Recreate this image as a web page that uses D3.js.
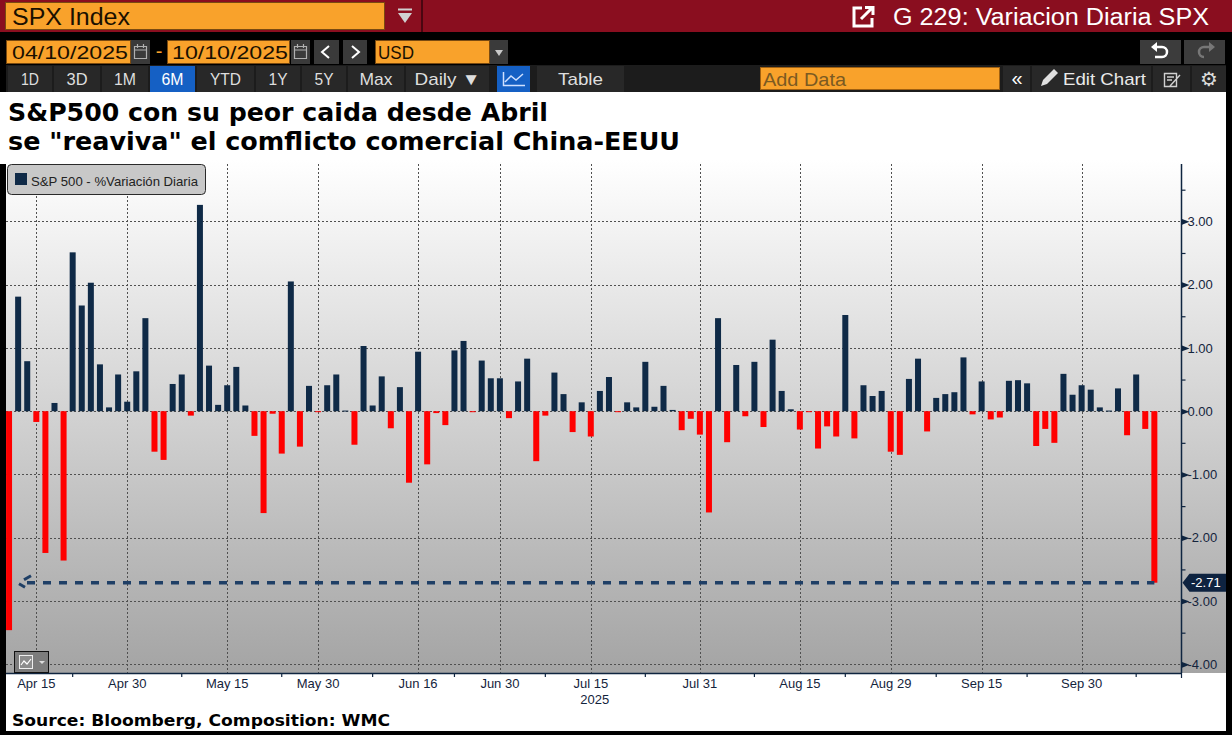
<!DOCTYPE html>
<html><head><meta charset="utf-8">
<script src="https://cdn.jsdelivr.net/npm/d3@7"></script>
<style>
body{margin:0;background:#000;overflow:hidden}
svg{display:block}
</style></head><body>
<svg id="c" width="1232" height="735" font-family="'Liberation Sans', Arial, sans-serif"></svg>
<script>
// ---------------- DATA ----------------
const dates = [
"2025-04-10","2025-04-11","2025-04-14","2025-04-15","2025-04-16","2025-04-17","2025-04-21","2025-04-22","2025-04-23","2025-04-24","2025-04-25","2025-04-28","2025-04-29","2025-04-30",
"2025-05-01","2025-05-02","2025-05-05","2025-05-06","2025-05-07","2025-05-08","2025-05-09","2025-05-12","2025-05-13","2025-05-14","2025-05-15","2025-05-16","2025-05-19","2025-05-20","2025-05-21","2025-05-22","2025-05-23","2025-05-27","2025-05-28","2025-05-29","2025-05-30",
"2025-06-02","2025-06-03","2025-06-04","2025-06-05","2025-06-06","2025-06-09","2025-06-10","2025-06-11","2025-06-12","2025-06-13","2025-06-16","2025-06-17","2025-06-18","2025-06-20","2025-06-23","2025-06-24","2025-06-25","2025-06-26","2025-06-27","2025-06-30",
"2025-07-01","2025-07-02","2025-07-03","2025-07-07","2025-07-08","2025-07-09","2025-07-10","2025-07-11","2025-07-14","2025-07-15","2025-07-16","2025-07-17","2025-07-18","2025-07-21","2025-07-22","2025-07-23","2025-07-24","2025-07-25","2025-07-28","2025-07-29","2025-07-30","2025-07-31",
"2025-08-01","2025-08-04","2025-08-05","2025-08-06","2025-08-07","2025-08-08","2025-08-11","2025-08-12","2025-08-13","2025-08-14","2025-08-15","2025-08-18","2025-08-19","2025-08-20","2025-08-21","2025-08-22","2025-08-25","2025-08-26","2025-08-27","2025-08-28","2025-08-29",
"2025-09-02","2025-09-03","2025-09-04","2025-09-05","2025-09-08","2025-09-09","2025-09-10","2025-09-11","2025-09-12","2025-09-15","2025-09-16","2025-09-17","2025-09-18","2025-09-19","2025-09-22","2025-09-23","2025-09-24","2025-09-25","2025-09-26","2025-09-29","2025-09-30",
"2025-10-01","2025-10-02","2025-10-03","2025-10-06","2025-10-07","2025-10-08","2025-10-09","2025-10-10"];

const values = [
-3.46,1.81,0.79,-0.17,-2.24,0.13,-2.36,2.51,1.67,2.03,0.74,0.06,0.58,0.15,
0.63,1.47,-0.64,-0.77,0.43,0.58,-0.07,3.26,0.72,0.10,0.41,0.70,0.09,-0.39,-1.61,-0.04,-0.67,2.05,-0.56,0.40,-0.01,
0.41,0.58,0.01,-0.53,1.03,0.09,0.55,-0.27,0.38,-1.13,0.94,-0.84,-0.03,-0.22,0.96,1.11,-0.01,0.80,0.52,0.52,
-0.11,0.47,0.83,-0.79,-0.07,0.61,0.27,-0.33,0.14,-0.40,0.32,0.54,-0.01,0.14,0.06,0.78,0.07,0.40,0.02,-0.30,-0.12,-0.37,
-1.60,1.47,-0.49,0.73,-0.08,0.78,-0.25,1.13,0.32,0.03,-0.29,-0.01,-0.59,-0.24,-0.40,1.52,-0.43,0.41,0.24,0.32,-0.64,
-0.69,0.51,0.83,-0.32,0.21,0.27,0.30,0.85,-0.05,0.47,-0.13,-0.10,0.48,0.49,0.44,-0.55,-0.28,-0.50,0.59,0.26,0.41,
0.34,0.06,0.01,0.36,-0.38,0.58,-0.28,-2.71];

const yTicks = [-4,-3,-2,-1,0,1,2,3];
const yMinorTicks = [-3.5,-2.5,-1.5,-0.5,0.5,1.5,2.5,3.5];
const xLabelDates = ["2025-04-15","2025-04-30","2025-05-15","2025-05-30","2025-06-16","2025-06-30","2025-07-15","2025-07-31","2025-08-15","2025-08-29","2025-09-15","2025-09-30"];
const xLabels = ["Apr 15","Apr 30","May 15","May 30","Jun 16","Jun 30","Jul 15","Jul 31","Aug 15","Aug 29","Sep 15","Sep 30"];
const xMinorDates = ["2025-04-22","2025-05-08","2025-05-23","2025-06-09","2025-06-23","2025-07-08","2025-07-23","2025-08-08","2025-08-22","2025-09-08","2025-09-22","2025-10-08"];
const yearLabel = "2025";
const yearLabelDate = "2025-07-15";
const seriesName = "S&P 500 - %Variación Diaria";
const titleLines = ["S&P500 con su peor caida desde Abril", "se \"reaviva\" el comflicto comercial China-EEUU"];
const sourceText = "Source: Bloomberg, Composition: WMC";
const lastValue = values[values.length-1];

// ---------------- SETUP ----------------
const svg = d3.select("#c");
const NARROW = "'Liberation Sans Narrow','Arial Narrow','Liberation Sans',Arial,sans-serif";
const BOLD = "'DejaVu Sans',Verdana,sans-serif";
const SANS = "'Liberation Sans',Arial,sans-serif";
const NAVY = "#0f2a47";
const AXIS = "#0f2540";
const ORANGE = "#f9a22b";

function R(x,y,w,h,fill,stroke){const r=svg.append("rect").attr("x",x).attr("y",y).attr("width",w).attr("height",h).attr("fill",fill); if(stroke) r.attr("stroke",stroke).attr("stroke-width",1); return r;}
function T(x,y,s,size,fill,o={}){const t=svg.append("text").attr("x",x).attr("y",y).text(s).attr("font-size",size).attr("fill",fill);
  if(o.family)t.attr("font-family",o.family); if(o.weight)t.attr("font-weight",o.weight); if(o.anchor)t.attr("text-anchor",o.anchor);
  if(o.len)t.attr("textLength",o.len).attr("lengthAdjust","spacingAndGlyphs"); return t;}
function P(d,o){const p=svg.append("path").attr("d",d).attr("fill",o.fill||"none"); if(o.stroke)p.attr("stroke",o.stroke).attr("stroke-width",o.sw||1); if(o.dash)p.attr("stroke-dasharray",o.dash); return p;}

// ---------------- HEADER ----------------
R(0,0,1232,32,"#8a0e1f");
R(5.5,2.5,379,27,ORANGE,"#7a4a10");
T(12,25,"SPX Index",23,"#1a1000",{family:NARROW,len:118});
P("M398,9.5 H412",{stroke:"#d0d0d0",sw:2});
P("M398,13 L412,13 L405,23 Z",{fill:"#d0d0d0"});
P("M422,0 V32",{stroke:"#4a0610",sw:2});
P("M862,8 H854 V26 H872 V18",{stroke:"#fff",sw:3});
P("M861,19 L872,8 M865,7.5 H873 V15",{stroke:"#fff",sw:3});
T(893,25,"G 229: Variacion Diaria SPX",23,"#fff",{family:NARROW,len:316});

// row 2
R(6.5,40.5,124,23,ORANGE,"#7a4a10");
T(12,59,"04/10/2025",19,"#1a1000",{family:NARROW,len:116});
R(131,40,19,24,"#3a3a3a");
P("M134.5,46.5 H146.5 V58.5 H134.5 Z M134.5,50 H146.5 M137.5,44 V48 M143.5,44 V48",{stroke:"#b0b0b0",sw:1.2});
T(159,58,"-",20,ORANGE,{family:NARROW,anchor:"middle"});
R(167.5,40.5,122,23,ORANGE,"#7a4a10");
T(172,59,"10/10/2025",19,"#1a1000",{family:NARROW,len:116});
R(291,40,19,24,"#3a3a3a");
P("M294.5,46.5 H306.5 V58.5 H294.5 Z M294.5,50 H306.5 M297.5,44 V48 M303.5,44 V48",{stroke:"#b0b0b0",sw:1.2});
R(314,40,25,24,"#3a3a3a"); P("M329,46 L322,52 L329,58",{stroke:"#fff",sw:2});
R(343,40,24,24,"#3a3a3a"); P("M352,46 L359,52 L352,58",{stroke:"#fff",sw:2});
R(375.5,40.5,114,23,ORANGE,"#7a4a10");
T(378,58.5,"USD",19,"#1a1000",{family:NARROW,len:36});
R(490,40,18,24,"#3a3a3a"); P("M495,50 L503,50 L499,56 Z",{fill:"#c8c8c8"});
R(1140,40,41,24,"#3c3c3c"); R(1184,40,41,24,"#3c3c3c");
P("M1156,47 H1162 A5,5 0 0 1 1162,57 H1155",{stroke:"#fff",sw:2.5}); P("M1151,47 L1157,42 L1157,52 Z",{fill:"#fff"});
P("M1210,47 H1204 A5,5 0 0 0 1204,57",{stroke:"#777",sw:2.5}); P("M1215,47 L1209,42 L1209,52 Z",{fill:"#777"});

// row 3
R(6,65,1220,27,"#1c1c1c");
const btns=[[7,53,"1D",18],[53,101,"3D",21],[101,149,"1M",22],[149,196,"6M",22,true],[196,255,"YTD",31],[255,301,"1Y",19],[301,347,"5Y",19],[347,405,"Max",33],[405,490,"Daily ▼",66]];
btns.forEach(b=>{R(b[0]+1,66,b[1]-b[0]-2,26,b[4]?"#1560c4":"#282828");
  T((b[0]+b[1])/2,85,b[2],17,b[4]?"#fff":"#dedede",{family:NARROW,anchor:"middle",len:b[3]});});
R(497,66,33,26,"#1560c4");
P("M503.5,72 V85.5 H525 M505,82 L511,76 L516,80 L523,74",{stroke:"#cfe0ff",sw:1.5});
R(537,66,87,26,"#282828"); T(580.5,85,"Table",17,"#dedede",{family:NARROW,anchor:"middle",len:45});
R(760.5,67.5,239,22,ORANGE,"#a06010");
T(763,86,"Add Data",19,"#7b5a22",{family:NARROW,len:83});
R(1003,66,27,26,"#282828"); T(1017,85,"«",20,"#fff",{family:NARROW,anchor:"middle"});
R(1032,66,119,26,"#282828");
P("M1041,86 L1043,80 L1054,69 L1058,73 L1047,84 Z",{fill:"#e0e0e0"});
T(1063,85,"Edit Chart",17,"#eaeaea",{family:NARROW,len:83});
R(1153,66,37,26,"#282828");
P("M1164.5,73.5 H1176.5 V86.5 H1164.5 Z M1167,77 H1174 M1167,80 H1172 M1170,86 L1180,75",{stroke:"#d0d0d0",sw:1.4});
R(1192,66,34,26,"#282828");
T(1209,86,"⚙",20,"#dcdcdc",{family:"'DejaVu Sans',sans-serif",anchor:"middle"});

// ---------------- PANELS ----------------
R(0,92,1226,72,"#ffffff");
const defs=svg.append("defs");
const grad=defs.append("linearGradient").attr("id","bg").attr("x1",0).attr("y1",0).attr("x2",0).attr("y2",1);
grad.append("stop").attr("offset","0%").attr("stop-color","#ffffff");
grad.append("stop").attr("offset","100%").attr("stop-color","#a4a4a4");
R(6,160,1220,513,"url(#bg)");
R(6,673,1220,58,"#ffffff");

// title
T(8,121,titleLines[0],24,"#000",{family:BOLD,weight:"bold",len:540});
T(8,150,titleLines[1],24,"#000",{family:BOLD,weight:"bold",len:672});

// ---------------- CHART ----------------
const PL=6, PR=1181.5, PT=164, PB=673;
const x = d3.scaleBand().domain(dates).range([4.5,1158.9]).paddingInner(0.34).paddingOuter(0.17);
const y = d3.scaleLinear().domain([-4.137,3.906]).range([PB,PT]);
const cx = d => x(d)+x.bandwidth()/2;

const g = svg.append("g");
g.selectAll(".hg").data(yTicks).join("line")
  .attr("x1",PL).attr("x2",PR).attr("y1",d=>Math.round(y(d))+0.5).attr("y2",d=>Math.round(y(d))+0.5)
  .attr("stroke","#505050").attr("stroke-width",1).attr("stroke-dasharray","2,2");
g.selectAll(".vg").data(xLabelDates).join("line")
  .attr("x1",d=>Math.round(cx(d))+0.5).attr("x2",d=>Math.round(cx(d))+0.5).attr("y1",PT).attr("y2",PB)
  .attr("stroke","#505050").attr("stroke-width",1).attr("stroke-dasharray","2,2");

const data = dates.map((d,i)=>({d, v:values[i]}));
g.selectAll(".bar").data(data).join("rect")
  .attr("x",d=>x(d.d)).attr("width",x.bandwidth())
  .attr("y",d=>d.v>=0 ? y(d.v) : y(0))
  .attr("height",d=>Math.max(1, Math.abs(y(d.v)-y(0))))
  .attr("fill",d=>d.v>=0 ? NAVY : "#ff0000");

const ly = y(lastValue);
P(`M27,${ly} H${cx(dates[dates.length-1])}`,{stroke:"#1f3f66",sw:3.5,dash:"8,8"});
P(`M31,${ly-7} L24,${ly-3}`,{stroke:"#1f3f66",sw:3});
P(`M19,${ly+1} L25,${ly+4.5}`,{stroke:"#1f3f66",sw:3});

svg.append("rect").attr("x",7.5).attr("y",164.5).attr("width",198).attr("height",30).attr("rx",4)
  .attr("fill","#c8c8c8").attr("stroke","#2a2a2a");
R(15,173,12,12,NAVY);
T(31,186,seriesName,13,"#222",{family:SANS,len:167});

const yAxis = svg.append("g").attr("transform",`translate(${PR},0)`)
  .call(d3.axisRight(y).tickValues(yTicks).tickSize(0).tickPadding(6).tickFormat(d=>d3.format(".2f")(d).replace("−","-")));
yAxis.select(".domain").remove();
yAxis.attr("font-size",13).attr("font-family",SANS);
yAxis.selectAll("text").attr("fill","#14243c");
yAxis.selectAll(".tick").append("path").attr("d","M0.5,-2.8 L8,0 L0.5,2.8 Z").attr("fill",AXIS);
const yMinor = svg.append("g").attr("transform",`translate(${PR},0)`)
  .call(d3.axisRight(y).tickValues(yMinorTicks).tickSize(4).tickFormat(""));
yMinor.select(".domain").remove();
yMinor.selectAll("line").attr("stroke",AXIS).attr("stroke-width",1.2);
P(`M${PR},${PT} V${PB}`,{stroke:AXIS,sw:1.5});

const xAxis = svg.append("g").attr("transform",`translate(0,${PB})`)
  .call(d3.axisBottom(x).tickValues(xLabelDates).tickSize(0).tickPadding(6).tickFormat(d=>xLabels[xLabelDates.indexOf(d)]));
xAxis.select(".domain").remove();
xAxis.attr("font-size",13).attr("font-family",SANS);
xAxis.selectAll("text").attr("fill","#14243c");
const xMinor = svg.append("g").attr("transform",`translate(0,${PB})`)
  .call(d3.axisBottom(x).tickValues(xMinorDates).tickSize(4).tickFormat(""));
xMinor.select(".domain").remove();
xMinor.selectAll("line").attr("stroke",AXIS).attr("stroke-width",1.2);
P(`M${PL},${PB+0.5} H${PR+0.5}`,{stroke:AXIS,sw:1.5});
P(`M${PR},${PB} V${PB+5}`,{stroke:AXIS,sw:1.2});
T(cx(yearLabelDate)+4,704,yearLabel,13,"#14243c",{family:SANS,anchor:"middle"});

const tagG = svg.append("g");
tagG.append("path").attr("d",`M${PR+1},${ly} L${PR+8},${ly-9} H1226 V${ly+9} H${PR+8} Z`).attr("fill","#0e2340");
tagG.append("text").attr("x",1191).attr("y",ly).attr("dy","0.35em").attr("font-size",13).attr("fill","#fff").attr("font-family",SANS)
  .text(d3.format(".2f")(lastValue).replace("−","-"));

R(14.5,651.5,34,21,"#7c7c7c","#111");
R(19.5,655.5,13,13,"#8c8c8c","#eee");
P("M21,665 L24,661 L27,664 L31,659",{stroke:"#fff",sw:1.2});
P("M39,661 L45,661 L42,664 Z",{fill:"#ddd"});

T(12,726,sourceText,16,"#000",{family:BOLD,weight:"bold",len:378});
</script>
</body></html>
